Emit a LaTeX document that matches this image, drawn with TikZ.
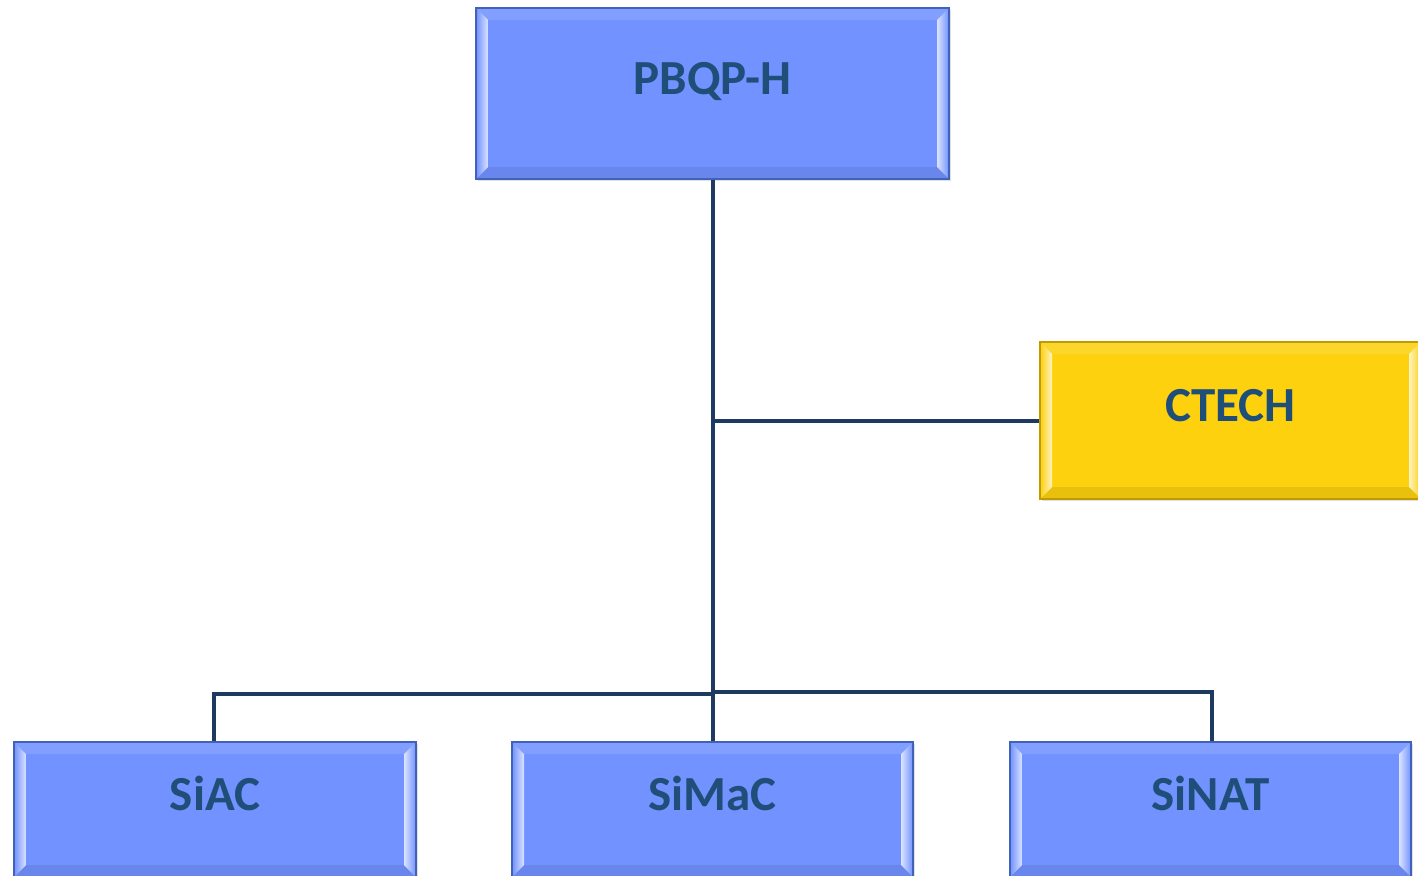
\documentclass[tikz,border=0pt]{standalone}
\usepackage{fontspec}
\setmainfont{Carlito}
\usetikzlibrary{calc,shadows}
\definecolor{bluefill}{HTML}{7192FF}
\definecolor{blueedge}{HTML}{4262B8}
\definecolor{bluelight}{HTML}{D6F0FF}
\definecolor{bluedark}{HTML}{5E7FE6}
\definecolor{yelfill}{HTML}{FDD10E}
\definecolor{yeledge}{HTML}{C09A00}
\definecolor{yellight}{HTML}{FFF4A0}
\definecolor{yeldark}{HTML}{E9BC00}
\definecolor{txtcol}{HTML}{1F4E79}
\definecolor{linecol}{HTML}{1F3A60}
\tikzset{
  bevelbox/.style n args={4}{draw=#2, line width=1.2pt, fill=#1,
    minimum width=#3, minimum height=#4, inner sep=0pt,
    text height=32pt, text depth=30pt, text=txtcol,
    font=\fontsize{49}{55}\selectfont\bfseries,
    drop shadow={opacity=0.25, shadow xshift=2pt, shadow yshift=-2pt},
    path picture={
      \coordinate (NW) at (path picture bounding box.north west);
      \coordinate (NE) at (path picture bounding box.north east);
      \coordinate (SW) at (path picture bounding box.south west);
      \coordinate (SE) at (path picture bounding box.south east);
      \fill[white,opacity=0.12] (NW) -- (NE) -- ($(NE)+(-12pt,-12pt)$) -- ($(NW)+(12pt,-12pt)$) -- cycle;
      \fill[black,opacity=0.08] (SW) -- (SE) -- ($(SE)+(-12pt,12pt)$) -- ($(SW)+(12pt,12pt)$) -- cycle;
      \shade[left color=#1, right color=white, opacity=0.75] (NW) -- ($(NW)+(12pt,-12pt)$) -- ($(SW)+(12pt,12pt)$) -- (SW) -- cycle;
      \shade[left color=white, right color=#1, opacity=0.75] (NE) -- ($(NE)+(-12pt,-12pt)$) -- ($(SE)+(-12pt,12pt)$) -- (SE) -- cycle;
    }},
  bluebox/.style 2 args={bevelbox={bluefill}{blueedge}{#1}{#2}},
  yelbox/.style 2 args={bevelbox={yelfill}{yeledge}{#1}{#2}},
  conn/.style={draw=linecol, line width=4pt}
}
\begin{document}
\begin{tikzpicture}[x=1pt,y=-1pt]
\useasboundingbox (0,0) rectangle (1418,875);
\clip (0,0) rectangle (1418,875);
\node[bluebox={473pt}{171pt}] (top) at (712.5,93.5) {PBQP-H};
\node[yelbox={381pt}{157pt}] (ctech) at (1230.5,420.5) {CTECH};
\node[bluebox={402pt}{135pt}] (siac) at (215,809.5) {SiAC};
\node[bluebox={401pt}{135pt}] (simac) at (712.5,809.5) {SiMaC};
\node[bluebox={401pt}{135pt}] (sinat) at (1210.5,809.5) {SiNAT};
\coordinate (jl) at (712,694);
\coordinate (jr) at (712,692);
\draw[conn] (top.south) -- (simac.north);
\draw[conn] (ctech.west) -- (ctech.west -| top.south);
\draw[conn] (siac.north -| 214,0) |- (jl);
\draw[conn] (sinat.north -| 1212,0) |- (jr);
\end{tikzpicture}
\end{document}
